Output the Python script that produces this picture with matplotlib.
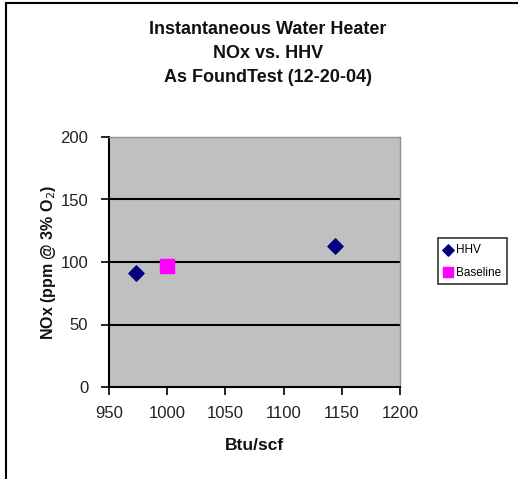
import matplotlib
matplotlib.use("Agg")
import matplotlib.pyplot as plt
from matplotlib.lines import Line2D

plt.rcParams['font.family'] = ['Liberation Sans', 'DejaVu Sans']

# Measured NOx emissions versus higher heating value
hhv_btu = [973, 1144]
hhv_nox = [91.5, 113]
baseline_btu = [1000]
baseline_nox = [97]

x_ticks = [950, 1000, 1050, 1100, 1150, 1200]
y_ticks = [0, 50, 100, 150, 200]

fig = plt.figure(figsize=(5.18, 4.79), dpi=100)
fig.patch.set_facecolor('white')

# outer chart frame (left and top edges)
fig.add_artist(Line2D([6/518, 6/518], [0, 1 - 3/479], transform=fig.transFigure,
                      color='black', lw=1.5))
fig.add_artist(Line2D([6/518, 1], [1 - 3/479, 1 - 3/479], transform=fig.transFigure,
                      color='black', lw=1.5))

ax = fig.add_axes([109/518, 92/479, 291/518, 250/479])
ax.set_facecolor('#c0c0c0')
ax.set_xlim(950, 1200)
ax.set_ylim(0, 200)
ax.set_xticks(x_ticks)
ax.set_yticks(y_ticks)
ax.tick_params(direction='out', length=6, width=1.2, color='black',
               labelsize=12, colors='#222222')
ax.tick_params(axis='x', pad=8)
ax.tick_params(axis='y', pad=9)

for v in y_ticks[1:-1]:
    ax.axhline(v, color='black', lw=1.5, zorder=1)

for side in ('left', 'bottom'):
    ax.spines[side].set_color('black')
    ax.spines[side].set_linewidth(1.5)
for side in ('top', 'right'):
    ax.spines[side].set_color('#909090')
    ax.spines[side].set_linewidth(1.0)

ax.scatter(hhv_btu, hhv_nox, marker='D', s=60, color='#000080', zorder=3, label='HHV')
ax.scatter(baseline_btu, baseline_nox, marker='s', s=110, color='#ff00ff', zorder=3,
           label='Baseline')

ax.set_xlabel('Btu/scf', fontsize=12.5, fontweight='bold', labelpad=12,
              color='#111111')
ax.set_ylabel('NOx (ppm @ 3% O$_2$)', fontsize=11.5, fontweight='bold', labelpad=2,
              color='#111111')

title_lines = ['Instantaneous Water Heater', 'NOx vs. HHV', 'As FoundTest (12-20-04)']
for i, line in enumerate(title_lines):
    fig.text(268/518, 1 - (30 + 23.5 * i)/479, line, ha='center', va='center',
             fontsize=13, fontweight='bold', color='#111111')

leg = fig.legend(loc='upper left', bbox_to_anchor=(438/518, 1 - 238/479),
                 fontsize=8.5, frameon=True, fancybox=False, edgecolor='black',
                 handlelength=0.7, handletextpad=0.3, borderpad=0.5,
                 labelspacing=0.9, markerscale=0.75, borderaxespad=0)
leg.get_frame().set_linewidth(1.2)

fig.savefig('out.png', dpi=100)
